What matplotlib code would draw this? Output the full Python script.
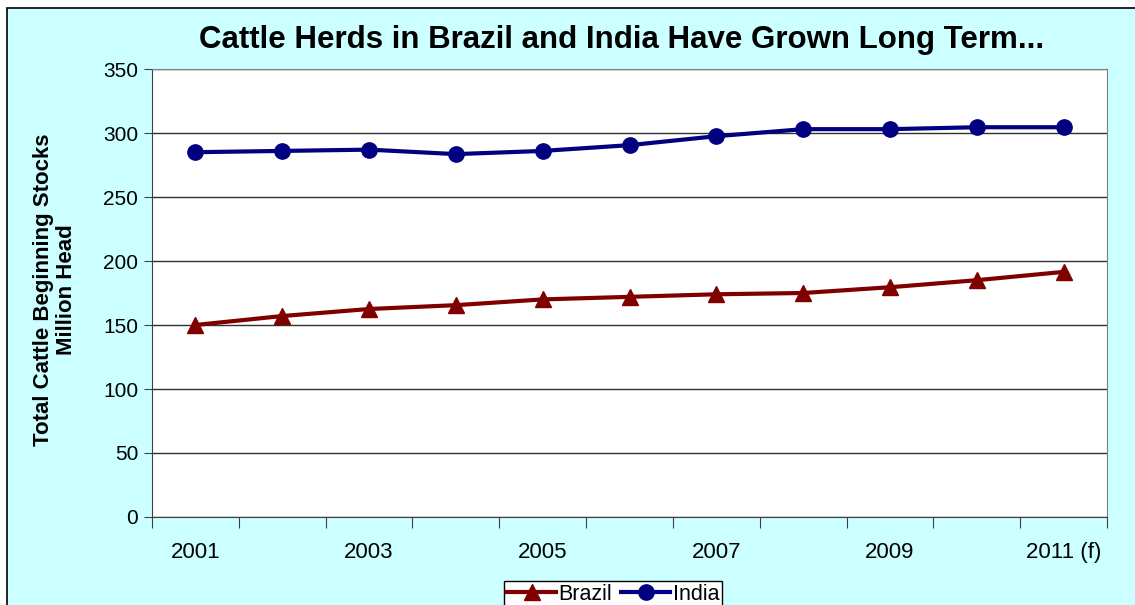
import matplotlib.pyplot as plt
from matplotlib.patches import Rectangle
import numpy as np

# data
years = ["2001", "2002", "2003", "2004", "2005", "2006", "2007", "2008", "2009", "2010", "2011 (f)"]
brazil = [150, 157, 162.5, 165.5, 170, 172, 174, 175, 179.5, 185, 191.5]
india = [285, 286, 287, 283.5, 286, 290.5, 297.5, 303, 303, 304.5, 304.5]

plt.rcParams['font.family'] = ['Liberation Sans', 'DejaVu Sans']

fig = plt.figure(figsize=(11.35, 6.05), dpi=100)
fig.patch.set_facecolor('white')
# cyan chart area with black frame
fig.patches.append(Rectangle((7 / 1135, -0.05), 1.2, (605 - 8) / 605 + 0.05,
                             transform=fig.transFigure, facecolor='#CCFFFF',
                             edgecolor='black', linewidth=1.2, zorder=-10))

ax = fig.add_axes([152 / 1135, (605 - 517) / 605, (1107 - 152) / 1135, (517 - 69) / 605])
ax.set_facecolor('white')

x = np.arange(len(years))
ax.plot(x, brazil, color='#800000', lw=3, marker='^', ms=12, label='Brazil', clip_on=False, zorder=3)
ax.plot(x, india, color='#000080', lw=3, marker='o', ms=11, label='India', clip_on=False, zorder=3)

ax.set_xlim(-0.5, len(years) - 0.5)
ax.set_ylim(0, 350)
ax.set_yticks(range(0, 351, 50))
ax.tick_params(axis='y', labelsize=15, length=6, color='#404040', pad=4)
ax.grid(axis='y', color='#303030', lw=1)
ax.set_axisbelow(True)

# category ticks sit between categories, labels on every other year
ax.set_xticks(np.arange(-0.5, len(years), 1.0))
ax.set_xticklabels([])
ax.tick_params(axis='x', length=8, color='#404040')
ax.set_xticks(x[::2], minor=True)
ax.set_xticklabels(years[::2], minor=True, fontsize=16)
ax.tick_params(axis='x', which='minor', length=0, pad=18)

for s in ax.spines.values():
    s.set_color('#808080')
ax.spines['left'].set_color('#404040')
ax.spines['bottom'].set_color('#404040')

fig.text(622 / 1135, (605 - 40) / 605, "Cattle Herds in Brazil and India Have Grown Long Term...",
         ha='center', va='center', fontsize=22.5, fontweight='bold')
fig.text(55 / 1135, (605 - 290) / 605, "Total Cattle Beginning Stocks\nMillion Head",
         ha='center', va='center', rotation=90, fontsize=16, fontweight='bold', linespacing=1.15)

leg = fig.legend(loc='upper center', bbox_to_anchor=(613 / 1135, (605 - 570) / 605), ncol=2,
                 frameon=True, fancybox=False, edgecolor='black', framealpha=1,
                 prop={'size': 15.5}, handlelength=2.3, handletextpad=0.1,
                 columnspacing=0.4, borderpad=0.15)
leg.get_frame().set_linewidth(1)

fig.savefig('out.png', dpi=100)
